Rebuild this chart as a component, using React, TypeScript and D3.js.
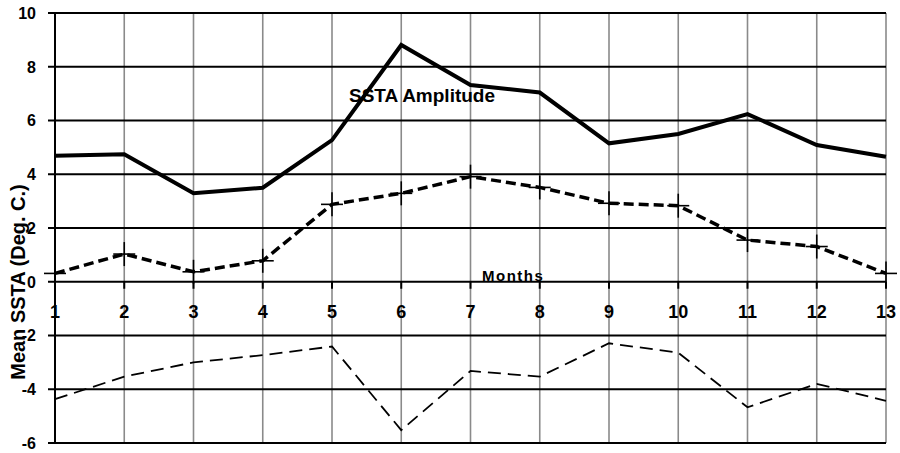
import React from "react";
import * as d3 from "d3";

const months = [1, 2, 3, 4, 5, 6, 7, 8, 9, 10, 11, 12, 13];
const amplitude = [4.69, 4.74, 3.29, 3.5, 5.27, 8.81, 7.32, 7.04, 5.15, 5.5, 6.24, 5.09, 4.65];
const meanSSTA = [0.31, 1.03, 0.37, 0.78, 2.88, 3.29, 3.91, 3.51, 2.92, 2.83, 1.55, 1.31, 0.31];
const minSSTA = [-4.37, -3.53, -3.0, -2.73, -2.41, -5.52, -3.32, -3.53, -2.29, -2.64, -4.67, -3.8, -4.43];
const yTicks = [10, 8, 6, 4, 2, 0, -2, -4, -6];

const W = 900;
const H = 453;
const FONT = "'Liberation Sans', Arial, Helvetica, sans-serif";

export default function App() {
  const x = d3.scaleLinear().domain([1, 13]).range([55, 886]);
  const y = d3.scaleLinear().domain([-6, 10]).range([443, 13]);
  const line = d3
    .line<number>()
    .x((_, i) => x(months[i]))
    .y((d) => y(d));
  const y0 = y(0);

  return (
    <div style={{ position: "absolute", left: 0, top: 0 }}>
      <svg width={W} height={H} style={{ display: "block", background: "#fff" }}>
        <rect width={W} height={H} fill="#fff" />
        {/* vertical gray gridlines */}
        {months.slice(1).map((m) => (
          <line key={"v" + m} x1={x(m)} x2={x(m)} y1={y(10)} y2={y(-6)} stroke="#8a8a8a" strokeWidth={1.6} />
        ))}
        {/* horizontal black gridlines */}
        {yTicks.map((t) => (
          <line key={"h" + t} x1={x(1)} x2={x(13)} y1={y(t)} y2={y(t)} stroke="#000" strokeWidth={2} />
        ))}
        {/* y axis */}
        <line x1={x(1)} x2={x(1)} y1={y(10)} y2={y(-6)} stroke="#000" strokeWidth={2} />
        {yTicks.map((t) => (
          <line key={"yt" + t} x1={x(1) - 7} x2={x(1)} y1={y(t)} y2={y(t)} stroke="#000" strokeWidth={2} />
        ))}
        {/* x ticks on zero line */}
        {months.map((m) => (
          <line key={"xt" + m} x1={x(m)} x2={x(m)} y1={y0} y2={y0 + 7} stroke="#000" strokeWidth={2} />
        ))}
        {/* series */}
        <path d={line(minSSTA) || ""} fill="none" stroke="#000" strokeWidth={1.8} strokeDasharray="13,7" />
        <path d={line(meanSSTA) || ""} fill="none" stroke="#000" strokeWidth={3.5} strokeDasharray="10,5" />
        {meanSSTA.map((v, i) => (
          <g key={"mk" + i} stroke="#000" strokeWidth={1.6}>
            <line x1={x(months[i]) - 11} x2={x(months[i]) + 11} y1={y(v)} y2={y(v)} />
            <line x1={x(months[i])} x2={x(months[i])} y1={y(v) - 12} y2={y(v) + 12} />
          </g>
        ))}
        <path d={line(amplitude) || ""} fill="none" stroke="#000" strokeWidth={4} strokeLinejoin="miter" />
        {/* y tick labels */}
        {yTicks.map((t) => (
          <text
            key={"yl" + t}
            x={36}
            y={y(t)}
            dy="0.36em"
            textAnchor="end"
            fontFamily={FONT}
            fontWeight="bold"
            fontSize={16}
            fill="#000"
          >
            {t}
          </text>
        ))}
        {/* x tick labels */}
        {months.map((m) => (
          <text
            key={"xl" + m}
            x={x(m)}
            y={y0 + 30}
            dy="0.36em"
            textAnchor="middle"
            fontFamily={FONT}
            fontWeight="bold"
            fontSize={18}
            fill="#000"
          >
            {m}
          </text>
        ))}
        {/* axis title */}
        <text
          transform={`translate(25, 282) rotate(-90)`}
          textAnchor="middle"
          fontFamily={FONT}
          fontWeight="bold"
          fontSize={20}
          fill="#000"
        >
          Mean SSTA (Deg. C.)
        </text>
        <text x={349} y={102} fontFamily={FONT} fontWeight="bold" fontSize={19} fill="#000">
          SSTA Amplitude
        </text>
        <text x={482} y={281} fontFamily={FONT} fontWeight="bold" fontSize={15} letterSpacing={1.5} fill="#000">
          Months
        </text>
      </svg>
    </div>
  );
}
